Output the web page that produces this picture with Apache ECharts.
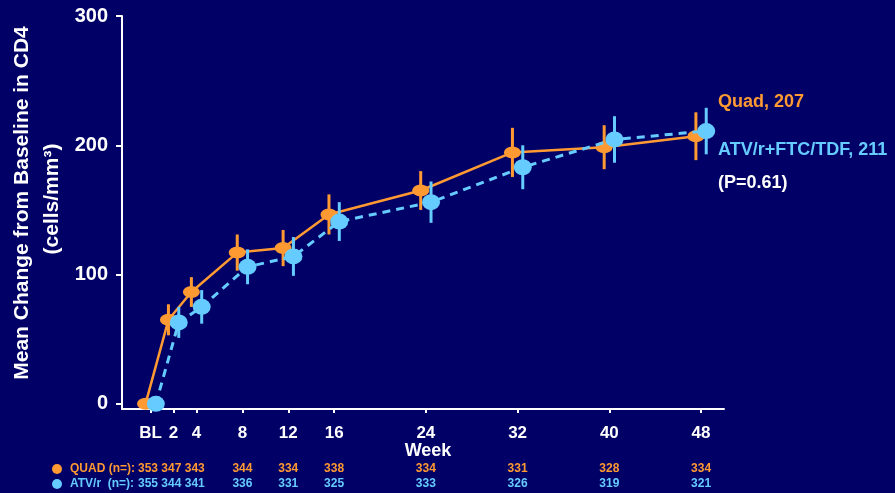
<!DOCTYPE html>
<html>
<head>
<meta charset="utf-8">
<script src="https://cdn.jsdelivr.net/npm/echarts@6/dist/echarts.min.js"></script>
<style>
  html, body { margin: 0; padding: 0; background: #000066; }
  #chart { width: 895px; height: 493px; }
</style>
</head>
<body>
<div id="chart"></div>
<script>
// Study weeks (BL = baseline, week 0)
const weeks = [0, 2, 4, 8, 12, 16, 24, 32, 40, 48];
const weekTicks = [0, 2, 4, 8, 12, 16, 24, 32, 40, 48];
const yTicks = [0, 100, 200, 300];

// Mean change from baseline in CD4 (cells/mm3) and error half-widths
const quadMean = [0, 65, 86.5, 117, 120.5, 146.5, 165, 194.5, 198.5, 207];
const quadErr  = [0, 12, 11.5, 14, 14, 15.5, 15, 19, 17, 18.5];
const atvMean  = [0, 63, 75, 106, 114, 141, 156, 183, 204.5, 211];
const atvErr   = [0, 12, 13, 13.5, 15, 15, 16, 17, 18, 18];

// Patients at each visit
const quadN = [353, 347, 343, 344, 334, 338, 334, 331, 328, 334];
const atvN  = [355, 344, 341, 336, 331, 325, 333, 326, 319, 321];

const ORANGE = '#FF9A33';
const BLUE = '#66CCFF';
const BG = '#000066';
const FONT = 'Liberation Sans, Arial, sans-serif';
const DODGE = 0.45; // horizontal offset (weeks) separating the two arms

const quadPts = weeks.map((w, i) => [w - DODGE, quadMean[i]]);
const atvPts = weeks.map((w, i) => [w + DODGE, atvMean[i]]);
const quadBars = weeks.map((w, i) => [w - DODGE, quadMean[i] - quadErr[i], quadMean[i] + quadErr[i]]);
const atvBars = weeks.map((w, i) => [w + DODGE, atvMean[i] - atvErr[i], atvMean[i] + atvErr[i]]);

function errorBar(color) {
  return function (params, api) {
    const lo = api.coord([api.value(0), api.value(1)]);
    const hi = api.coord([api.value(0), api.value(2)]);
    return {
      type: 'line',
      shape: { x1: lo[0], y1: lo[1], x2: hi[0], y2: hi[1] },
      style: { stroke: color, lineWidth: 3 }
    };
  };
}

const chart = echarts.init(document.getElementById('chart'), null, { renderer: 'canvas' });

const option = {
  backgroundColor: BG,
  animation: false,
  grid: { left: 122, right: 171, top: 16, bottom: 84 },
  xAxis: {
    type: 'value',
    min: -2.5,
    max: 50,
    axisLine: { show: true, onZero: false, lineStyle: { color: '#ffffff', width: 2 } },
    axisTick: { show: true, length: 4, lineStyle: { color: '#ffffff', width: 2 }, customValues: weekTicks },
    axisLabel: {
      customValues: weekTicks,
      formatter: v => (v === 0 ? 'BL' : String(v)),
      color: '#ffffff', fontFamily: FONT, fontWeight: 'bold', fontSize: 17, margin: 16
    },
    splitLine: { show: false }
  },
  yAxis: {
    type: 'value',
    min: -4,
    max: 300,
    axisLine: { show: true, onZero: false, lineStyle: { color: '#ffffff', width: 2 } },
    axisTick: { show: true, length: 6, lineStyle: { color: '#ffffff', width: 2 }, customValues: yTicks },
    axisLabel: {
      customValues: yTicks,
      color: '#ffffff', fontFamily: FONT, fontWeight: 'bold', fontSize: 20, margin: 14
    },
    splitLine: { show: false }
  },
  series: [
    {
      type: 'line', data: quadPts, z: 2,
      symbol: 'circle', symbolSize: [17, 12],
      itemStyle: { color: ORANGE },
      lineStyle: { color: ORANGE, width: 2.5 }
    },
    {
      type: 'custom', data: quadBars, z: 3,
      renderItem: errorBar(ORANGE)
    },
    {
      type: 'line', data: atvPts, z: 4,
      symbol: 'circle', symbolSize: [18, 16],
      itemStyle: { color: BLUE },
      lineStyle: { color: BLUE, width: 3, type: [8, 6] }
    },
    {
      type: 'custom', data: atvBars, z: 5,
      renderItem: errorBar(BLUE)
    }
  ]
};
chart.setOption(option);

// Annotations, axis titles and the patient-count table
const g = [];
function txt(x, y, text, color, size, align, extra) {
  g.push(Object.assign({
    type: 'text', x: x, y: y,
    style: {
      text: text, fill: color, fontFamily: FONT, fontWeight: 'bold', fontSize: size,
      align: align || 'left', verticalAlign: 'middle'
    }
  }, extra || {}));
}

txt(22, 203, 'Mean Change from Baseline in CD4', '#ffffff', 21, 'center', { rotation: Math.PI / 2 });
txt(52, 199, '(cells/mm³)', '#ffffff', 21, 'center', { rotation: Math.PI / 2 });
txt(428, 451, 'Week', '#ffffff', 18, 'center');

const lastQ = quadMean[quadMean.length - 1];
const lastA = atvMean[atvMean.length - 1];
txt(718, 102, 'Quad, ' + lastQ, ORANGE, 18);
txt(718, 150, 'ATV/r+FTC/TDF, ' + lastA, BLUE, 18);
txt(718, 183, '(P=0.61)', '#ffffff', 18);

const row1 = 469, row2 = 484;
g.push({ type: 'circle', shape: { cx: 57, cy: row1, r: 5 }, style: { fill: ORANGE } });
g.push({ type: 'circle', shape: { cx: 57, cy: row2, r: 5 }, style: { fill: BLUE } });
txt(70, row1, 'QUAD (n=):', ORANGE, 12);
txt(70, row2, 'ATV/r  (n=):', BLUE, 12);
txt(138, row1, quadN.slice(0, 3).join(' '), ORANGE, 12);
txt(138, row2, atvN.slice(0, 3).join(' '), BLUE, 12);
for (let i = 3; i < weeks.length; i++) {
  const px = chart.convertToPixel({ xAxisIndex: 0 }, weeks[i]);
  txt(px, row1, String(quadN[i]), ORANGE, 12, 'center');
  txt(px, row2, String(atvN[i]), BLUE, 12, 'center');
}

chart.setOption({ graphic: g });
</script>
</body>
</html>
